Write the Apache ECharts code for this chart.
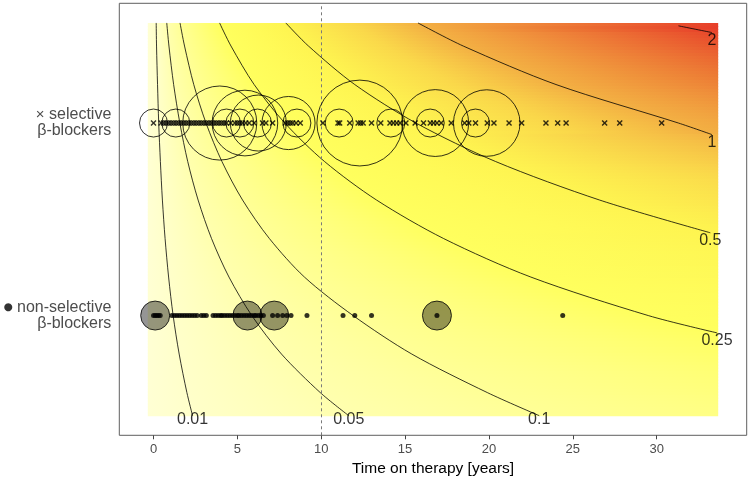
<!DOCTYPE html>
<html>
<head>
<meta charset="utf-8">
<script src="https://cdn.jsdelivr.net/npm/echarts@6/dist/echarts.min.js"></script>
<style>
  html, body { margin: 0; padding: 0; background: #fff; }
  #chart { width: 750px; height: 477px; }
</style>
</head>
<body>
<div id="chart"></div>
<script>
// ---- data ----
const xTicks = [0, 5, 10, 15, 20, 25, 30];
const rowValues = [1, 2]; // 1 = non-selective, 2 = selective
const rowNames = { 1: 'non-selective', 2: 'selective' };

// single observations (years on therapy)
const selectiveTimes = [0.0, 0.45, 0.6, 0.75, 0.9, 1.05, 1.2, 1.35, 1.5, 1.65, 1.8, 1.95, 2.1, 2.25, 2.4,
  2.55, 2.7, 2.85, 3.0, 3.15, 3.3, 3.45, 3.6, 3.75, 3.9, 4.05, 4.2, 4.35, 4.6, 4.85, 5.0, 5.15, 5.3,
  5.5, 5.7, 6.0, 6.5, 6.7, 7.1, 7.85, 8.0, 8.15, 8.3, 8.5, 8.75, 10.1, 11.0, 11.1, 11.7, 12.2, 12.35,
  12.5, 13.0, 13.55, 14.1, 14.3, 14.5, 14.7, 15.05, 15.6, 16.1, 16.5, 16.7, 16.9, 17.15, 17.75, 18.55,
  18.8, 19.2, 19.9, 20.3, 21.2, 21.95, 23.4, 24.1, 24.6, 26.9, 27.8, 30.3];
const nonSelectiveTimes = [0.0, 0.1, 0.2, 0.3, 0.4, 1.1, 1.25, 1.4, 1.55, 1.7, 1.85, 2.0, 2.15, 2.3, 2.45,
  2.6, 2.85, 3.0, 3.15, 3.55, 3.7, 3.85, 4.0, 4.1, 4.25, 4.4, 4.55, 4.7, 4.85, 5.0, 5.1, 5.25, 5.4,
  5.55, 5.7, 5.85, 6.0, 6.1, 6.25, 6.4, 6.55, 7.1, 7.4, 7.7, 7.95, 8.2, 9.15, 11.3, 12.0, 13.0, 16.9, 24.4];

// events: [time, weight]
const selectiveEvents = [[0.0, 1], [1.33, 1], [3.95, 7], [4.35, 1], [5.15, 1], [5.45, 5.5], [6.25, 4],
  [6.2, 1], [8.05, 3.6], [8.55, 1], [11.07, 1], [12.3, 9.4], [14.15, 1], [16.5, 1], [16.8, 5.7],
  [19.2, 1], [19.87, 5.65]];
const nonSelectiveEvents = [[0.1, 1], [5.6, 1], [7.2, 1], [16.9, 1]];

// risk surface extent and contour lines [time, row position]
const fieldX = [-0.34, 33.67];
const fieldY = [0.48, 2.52];
const contourLevels = [0.01, 0.05, 0.1, 0.25, 0.5, 1, 2];
const contour001 = [[0.16, 2.52], [0.18, 2.4], [0.24, 2.2], [0.31, 2.0], [0.41, 1.8], [0.53, 1.6], [0.69, 1.4],
  [0.9, 1.2], [1.17, 1.0], [1.53, 0.8], [1.99, 0.6], [2.33, 0.48]];
const contour005 = [[0.79, 2.52], [0.92, 2.4], [1.2, 2.2], [1.57, 2.0], [2.04, 1.8], [2.66, 1.6], [3.46, 1.4],
  [4.5, 1.2], [5.86, 1.0], [7.63, 0.8], [9.94, 0.6], [11.64, 0.48]];
const contour01 = [[1.58, 2.52], [1.85, 2.4], [2.4, 2.2], [3.13, 2.0], [4.08, 1.8], [5.31, 1.6], [6.91, 1.4],
  [9.0, 1.2], [11.9, 1.0], [15.4, 0.8], [19.9, 0.6], [23.0, 0.48]];
const contour025 = [[3.94, 2.52], [4.62, 2.4], [6.0, 2.2], [7.83, 2.0], [10.2, 1.8], [13.3, 1.6], [17.3, 1.4],
  [22.5, 1.2], [29.5, 1.0], [33.6, 0.91]];
const contour05 = [[7.89, 2.52], [9.24, 2.4], [12.0, 2.2], [15.65, 2.0], [20.4, 1.8], [26.6, 1.6], [33.2, 1.43]];
const contour1 = [[15.77, 2.52], [18.47, 2.4], [24.0, 2.2], [31.3, 2.0], [33.3, 1.94]];
const contour2 = [[31.3, 2.505], [33.3, 2.47]];
const contourLines = [contour001, contour005, contour01, contour025, contour05, contour1, contour2];

// fill colour per risk level
const fillScale = [[0, '#FFFFD4'], [0.01, '#FFFFCA'], [0.05, '#FFFFAE'], [0.1, '#FFFF96'], [0.25, '#FFFF5E'],
  [0.5, '#FEF450'], [0.75, '#FAD84A'], [1, '#F3B043'], [1.5, '#EC7834'], [2, '#E8462B'], [2.3, '#E63226']];

// ---- helpers ----
function hexRgb(h) {
  return [1, 3, 5].map(i => parseInt(h.slice(i, i + 2), 16));
}
function fillColor(z) {
  if (z <= fillScale[0][0]) return fillScale[0][1];
  for (let i = 1; i < fillScale.length; i++) {
    if (z <= fillScale[i][0]) {
      const t = (z - fillScale[i - 1][0]) / (fillScale[i][0] - fillScale[i - 1][0]);
      const a = hexRgb(fillScale[i - 1][1]), b = hexRgb(fillScale[i][1]);
      return 'rgb(' + a.map((v, j) => Math.round(v + (b[j] - v) * t)).join(',') + ')';
    }
  }
  return fillScale[fillScale.length - 1][1];
}
function crossAt(line, y) {
  for (let i = 1; i < line.length; i++) {
    const a = line[i - 1], b = line[i];
    if ((y - a[1]) * (y - b[1]) <= 0 && a[1] !== b[1]) {
      const t = (y - a[1]) / (b[1] - a[1]);
      return a[0] + (b[0] - a[0]) * t;
    }
  }
  return null;
}

// surface: horizontal strips, colour stops where the contours cross
function renderField(params, api) {
  const x0 = api.value(0), x1 = api.value(1), y0 = api.value(2), y1 = api.value(3);
  const tl = api.coord([x0, y1]), br = api.coord([x1, y0]);
  const n = 131;
  const h = (br[1] - tl[1]) / n;
  const children = [];
  for (let k = 0; k < n; k++) {
    const yv = y1 - (k + 0.5) / n * (y1 - y0);
    const stops = [{ offset: 0, color: fillColor(0) }];
    let lastC = null, lastX = null;
    contourLevels.forEach((c, i) => {
      const xc = crossAt(contourLines[i], yv);
      if (xc == null) return;
      stops.push({ offset: Math.min(1, Math.max(0, (xc - x0) / (x1 - x0))), color: fillColor(c) });
      lastC = c; lastX = xc;
    });
    // between level crossings the colour runs on; z grows with x along a row
    const mids = [];
    for (let s = 1; s < stops.length - 1; s++) {
      const zA = contourLevels[s - 1], zB = contourLevels[s];
      const off = (stops[s].offset + stops[s + 1].offset) / 2;
      mids.push({ offset: off, color: fillColor((zA + zB) / 2) });
    }
    const rightZ = lastC * x1 / lastX;
    const all = stops.concat(mids).sort((a, b) => a.offset - b.offset);
    all.push({ offset: 1, color: fillColor(rightZ) });
    children.push({
      type: 'rect',
      shape: { x: tl[0], y: tl[1] + k * h, width: br[0] - tl[0], height: h + 0.7 },
      style: { fill: new echarts.graphic.LinearGradient(0, 0, 1, 0, all) },
      silent: true
    });
  }
  return { type: 'group', children: children };
}

const crossSymbol = 'path://M2,0L6,4L10,0L12,2L8,6L12,10L10,12L6,8L2,12L0,10L4,6L0,2Z';
const font = 'Liberation Sans, Arial, sans-serif';

const chart = echarts.init(document.getElementById('chart'), null, { renderer: 'canvas' });

const contourSeries = contourLines.map((line, i) => ({
  type: 'line',
  name: 'contour ' + contourLevels[i],
  data: line,
  smooth: 0.3,
  symbol: 'none',
  silent: true,
  z: 3,
  lineStyle: { color: 'rgba(0,0,0,0.78)', width: 1 }
}));

chart.setOption({
  animation: false,
  backgroundColor: '#fff',
  textStyle: { fontFamily: font },
  grid: {
    left: 119.3, right: 3.3, top: 3.3, bottom: 41.7,
    show: true, borderColor: '#5f5f5f', borderWidth: 1,
    outerBoundsMode: 'none'
  },
  xAxis: {
    type: 'value',
    min: -2.04, max: 35.37,
    name: 'Time on therapy [years]',
    nameLocation: 'middle',
    nameGap: 24,
    nameTextStyle: { color: '#000', fontSize: 15.5, fontFamily: font },
    axisLine: { show: false },
    splitLine: { show: false },
    axisTick: { show: true, customValues: xTicks, length: 4, lineStyle: { color: '#444' } },
    axisLabel: { customValues: xTicks, color: '#4d4d4d', fontSize: 13, margin: 8, fontFamily: font }
  },
  yAxis: {
    type: 'value',
    min: 0.378, max: 2.622,
    axisLine: { show: false },
    splitLine: { show: false },
    axisTick: { show: true, customValues: rowValues, length: 4, lineStyle: { color: '#444' } },
    axisLabel: {
      customValues: rowValues,
      color: '#4d4d4d',
      fontSize: 16,
      lineHeight: 16,
      margin: 8,
      fontFamily: font,
      formatter: v => (v === 2 ? '{m|×} ' : '{d|●} ') + rowNames[v] + '\nβ-blockers',
      rich: {
        m: { fontSize: 15, color: '#4d4d4d', fontFamily: font },
        d: { fontSize: 10.5, color: '#333', fontFamily: 'DejaVu Sans' }
      }
    }
  },
  series: [
    {
      type: 'custom',
      name: 'risk',
      renderItem: renderField,
      data: [[fieldX[0], fieldX[1], fieldY[0], fieldY[1]]],
      encode: { x: [0, 1], y: [2, 3] },
      clip: false,
      silent: true,
      z: 1
    },
    ...contourSeries,
    {
      type: 'scatter',
      name: 'contour labels',
      data: contourLines.map((l, i) => {
        const end = l[l.length - 1];
        const atBottom = end[1] <= fieldY[0] + 0.01;
        return { value: end, label: { formatter: String(contourLevels[i]), offset: atBottom ? [0, 4] : [0, 8] } };
      }),
      symbolSize: 1,
      itemStyle: { color: 'rgba(0,0,0,0)' },
      silent: true,
      z: 4,
      label: { show: true, position: 'inside', color: '#000', fontSize: 16, fontFamily: font }
    },
    {
      type: 'scatter',
      name: 'non-selective',
      data: nonSelectiveTimes.map(t => [t, 1]),
      symbol: 'circle',
      symbolSize: 5,
      itemStyle: { color: '#000' },
      z: 6,
      markLine: {
        silent: true,
        symbol: ['none', 'none'],
        label: { show: false },
        lineStyle: { color: '#7a7a7a', type: [3, 3], width: 1 },
        data: [{ xAxis: 10 }]
      }
    },
    {
      type: 'scatter',
      name: 'non-selective events',
      data: nonSelectiveEvents.map(e => [e[0], 1, e[1]]),
      symbol: 'circle',
      symbolSize: d => 29 * Math.sqrt(d[2]),
      itemStyle: { color: 'rgba(0,0,0,0.52)', borderColor: '#000', borderWidth: 1 },
      z: 5
    },
    {
      type: 'scatter',
      name: 'selective',
      data: selectiveTimes.map(t => [t, 2]),
      symbol: crossSymbol,
      symbolSize: 6,
      itemStyle: { color: '#000' },
      z: 6
    },
    {
      type: 'scatter',
      name: 'selective events',
      data: selectiveEvents.map(e => [e[0], 2, e[1]]),
      symbol: 'circle',
      symbolSize: d => 28 * Math.sqrt(d[2]),
      itemStyle: { color: 'rgba(0,0,0,0)', borderColor: '#000', borderWidth: 1 },
      z: 5
    }
  ]
});
</script>
</body>
</html>
